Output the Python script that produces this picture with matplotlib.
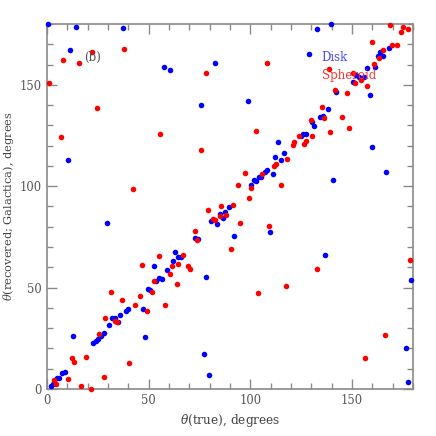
import matplotlib
matplotlib.use("Agg")
import matplotlib.pyplot as plt
from matplotlib.ticker import MultipleLocator

disk_x = [0.3, 14.1, 37.2, 11.5, 57.7, 60.5, 82.5, 75.6, 139.5, 132.6, 168.2, 163.9, 162.6, 165.4,
          128.7, 161.3, 157.4, 152.2, 153.5, 155.8, 150.4, 142.2, 158.7, 98.9, 138.1, 10.2, 89.5,
          87.7, 85.1, 86.4, 80.8, 83.8, 29.4, 73.0, 74.4, 63.1, 64.4, 65.8, 61.8, 52.5, 59.2, 78.4,
          55.1, 56.4, 53.8, 49.8, 50.8, 134.4, 135.6, 130.3, 131.5, 126.1, 127.4, 124.8, 113.6,
          159.9, 116.4, 112.3, 115.0, 108.2, 107.1, 111.0, 104.3, 105.3, 101.7, 103.0, 100.2, 166.7,
          140.8, 109.5, 91.8, 136.7, 179.0, 40.0, 38.7, 47.1, 35.9, 31.8, 33.3, 34.8, 30.6, 48.4,
          12.9, 27.9, 26.4, 25.2, 24.0, 22.6, 77.1, 79.7, 9.0, 7.5, 5.9, 4.8, 3.1, 2.0, 176.4, 177.7]
disk_y = [180.0, 178.5, 177.8, 167.0, 158.6, 157.2, 161.0, 139.8, 180.0, 177.6, 168.1, 166.3, 164.3, 164.3,
          165.2, 158.6, 158.1, 154.6, 154.0, 154.0, 151.5, 146.4, 145.1, 142.1, 137.9, 112.7, 89.6,
          87.5, 86.2, 84.5, 82.8, 81.5, 81.9, 74.3, 73.8, 67.6, 65.1, 65.1, 63.3, 60.5, 58.5, 55.4,
          54.7, 54.0, 53.3, 49.3, 48.7, 134.1, 134.6, 131.5, 129.8, 125.9, 125.6, 124.6, 121.6,
          119.3, 116.2, 114.2, 112.9, 108.1, 107.0, 106.0, 104.7, 104.7, 103.2, 102.7, 100.6, 106.8,
          103.2, 77.4, 75.4, 65.9, 53.7, 39.6, 38.6, 39.6, 36.6, 34.9, 34.9, 33.1, 31.6, 25.8,
          26.1, 27.6, 26.3, 24.5, 23.5, 22.7, 17.4, 7.1, 8.4, 7.9, 5.6, 5.4, 2.6, 1.6, 20.1, 3.5]

sph_x = [7.7, 22.3, 15.7, 37.7, 1.0, 78.4, 24.7, 168.7, 175.3, 177.7, 174.3, 159.7, 169.5, 172.0,
         165.4, 163.1, 108.4, 160.7, 138.5, 150.6, 154.5, 151.7, 157.4, 141.8, 147.6, 135.4, 6.7,
         55.6, 75.9, 42.5, 85.7, 136.1, 145.1, 129.7, 148.4, 139.3, 102.8, 124.0, 130.5, 127.2,
         121.6, 120.9, 126.6, 118.2, 112.6, 111.8, 105.9, 97.2, 94.0, 115.1, 100.3, 99.5, 91.5,
         79.2, 84.9, 88.2, 81.7, 82.5, 72.8, 73.8, 90.4, 67.1, 54.9, 64.6, 61.3, 46.7, 69.5, 70.3,
         60.5, 52.5, 63.8, 51.5, 31.5, 45.9, 37.0, 94.8, 109.3, 178.4, 133.0, 117.6, 103.6, 43.4,
         58.0, 49.2, 28.7, 33.4, 34.6, 25.6, 12.4, 13.4, 19.0, 40.2, 28.0, 3.4, 10.2, 4.4, 16.6,
         21.5, 166.3, 156.4]
sph_y = [162.2, 166.3, 161.0, 167.8, 150.9, 155.8, 138.4, 179.6, 178.3, 177.5, 176.2, 171.2, 169.6, 169.6,
         167.2, 163.4, 160.6, 160.1, 157.6, 155.6, 152.4, 150.9, 149.4, 147.4, 145.8, 139.2, 124.1,
         125.6, 117.7, 98.4, 90.2, 133.8, 134.1, 132.5, 128.5, 126.8, 127.0, 124.6, 124.9, 122.4,
         121.6, 120.1, 120.8, 113.6, 110.9, 110.1, 105.8, 106.3, 100.8, 100.6, 99.1, 94.3, 90.9,
         88.3, 85.2, 85.7, 84.0, 83.3, 77.9, 73.3, 69.0, 65.9, 65.6, 61.6, 60.8, 61.0, 60.5, 59.0,
         56.9, 53.1, 51.6, 48.0, 47.7, 45.7, 44.0, 81.7, 80.6, 63.8, 59.3, 50.6, 47.1, 41.6,
         41.6, 38.5, 34.8, 33.3, 32.8, 27.3, 15.4, 13.3, 15.9, 13.0, 6.1, 4.6, 4.8, 2.6, 1.6,
         0.1, 26.5, 15.1]

plt.rcParams['font.family'] = ['DejaVu Serif']
plt.rcParams['mathtext.fontset'] = 'dejavuserif'

fig = plt.figure(figsize=(4.36, 4.36), dpi=100)
ax = fig.add_axes([0.108, 0.108, 0.839, 0.837])

ax.scatter(disk_x, disk_y, s=16, color='#0000ff', linewidths=0, zorder=3, clip_on=False)
ax.scatter(sph_x, sph_y, s=16, color='#ff0000', linewidths=0, zorder=3, clip_on=False)

ax.set_xlim(0, 180)
ax.set_ylim(0, 180)
ax.xaxis.set_major_locator(MultipleLocator(50))
ax.xaxis.set_minor_locator(MultipleLocator(10))
ax.yaxis.set_major_locator(MultipleLocator(50))
ax.yaxis.set_minor_locator(MultipleLocator(10))
gray = '#8a8a8a'
for sp in ax.spines.values():
    sp.set_color(gray)
    sp.set_linewidth(1.2)
ax.tick_params(which='both', direction='in', top=True, right=True, color=gray,
               labelcolor='#555555', labelsize=8.3, width=1.0)
ax.tick_params(which='major', length=7, pad=4)
ax.tick_params(which='minor', length=4)

ax.set_xlabel(r'$\theta$(true), degrees', fontsize=8.7, color='#444444', labelpad=3)
ax.set_ylabel(r'$\theta$(recovered; Galactica), degrees', fontsize=8.2, color='#444444')
ax.yaxis.set_label_coords(-0.085, 0.5)

ax.text(18.2, 163.7, '(b)', fontsize=8.5, color='#555555', va='center', ha='left')
ax.text(135.1, 163.7, 'Disk', fontsize=8.5, color='#4848ff', va='center', ha='left')
ax.text(135.1, 154.8, 'Spheroid', fontsize=8.5, color='#ff3030', va='center', ha='left')

fig.savefig('out.png', dpi=100)
